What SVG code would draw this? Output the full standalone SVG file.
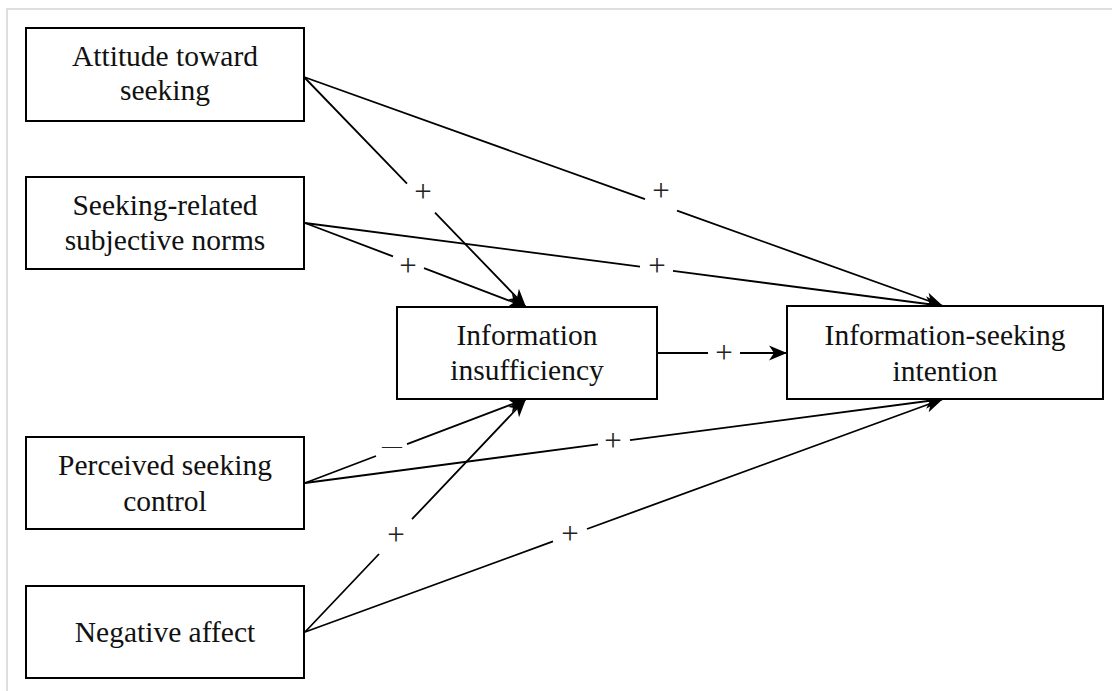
<svg xmlns="http://www.w3.org/2000/svg" width="1112" height="691" viewBox="0 0 1112 691">
<style>
.box{fill:#fff;stroke:#000;stroke-width:2}
.t{font-family:"Liberation Serif","Times New Roman",serif;font-size:29.5px;fill:#111;text-anchor:middle}
.c{fill:none;stroke:#000;stroke-width:1.8}
.lbl{font-family:"Liberation Serif","Times New Roman",serif;font-size:31px;fill:#222;text-anchor:middle}
.frame{stroke:#d4d4d4;stroke-width:1.5;fill:none}
</style>
<defs>
<marker id="ah" markerUnits="userSpaceOnUse" markerWidth="22" markerHeight="18" viewBox="-20 -9 22 18" refX="0" refY="0" orient="auto">
<path d="M0,0 L-18,-7.5 L-13,0 L-18,7.5 Z" fill="#000"/>
</marker>
</defs>
<rect width="1112" height="691" fill="#fff"/>
<path class="frame" d="M7,691 L7,9 L1112,9"/>
<g id="connectors">
<path class="c" d="M304,77 L407,183.7 M435,212.7 L526,307" marker-end="url(#ah)"/>
<path class="c" d="M304,77 L645,199.2 M677,210.7 L943,306" marker-end="url(#ah)"/>
<path class="c" d="M305,223 L393,256.4 M424,268.2 L526,307" marker-end="url(#ah)"/>
<path class="c" d="M305,223 L640,266.6 M673,270.9 L943,306" marker-end="url(#ah)"/>
<path class="c" d="M657,353 L708,353 M740,353 L787,353" marker-end="url(#ah)"/>
<path class="c" d="M305,483 L376,456 M407,444.2 L526,399" marker-end="url(#ah)"/>
<path class="c" d="M305,483 L598,444.4 M630,440.2 L943,399" marker-end="url(#ah)"/>
<path class="c" d="M305,632 L379,554 M412,519.2 L526,399" marker-end="url(#ah)"/>
<path class="c" d="M305,632 L553,541.4 M587,529 L943,399" marker-end="url(#ah)"/>
<text class="lbl" x="423" y="202">+</text>
<text class="lbl" x="661" y="201">+</text>
<text class="lbl" x="408" y="276">+</text>
<text class="lbl" x="657" y="276">+</text>
<text class="lbl" x="724" y="363">+</text>
<text class="lbl" x="392" y="453" style="font-size:20px">—</text>
<text class="lbl" x="613" y="451">+</text>
<text class="lbl" x="396" y="545">+</text>
<text class="lbl" x="570" y="544">+</text>
</g>
<g id="attitude">
<rect class="box" x="26" y="28" width="278" height="93"/>
<text class="t" x="165" y="66">Attitude toward</text>
<text class="t" x="165" y="100">seeking</text>
</g>
<g id="norms">
<rect class="box" x="26" y="177" width="278" height="92"/>
<text class="t" x="165" y="215">Seeking-related</text>
<text class="t" x="165" y="250">subjective norms</text>
</g>
<g id="control">
<rect class="box" x="26" y="437" width="278" height="92"/>
<text class="t" x="165" y="475">Perceived seeking</text>
<text class="t" x="165" y="511">control</text>
</g>
<g id="affect">
<rect class="box" x="26" y="586" width="278" height="92"/>
<text class="t" x="165" y="642">Negative affect</text>
</g>
<g id="insufficiency">
<rect class="box" x="397" y="307" width="260" height="92"/>
<text class="t" x="527" y="345">Information</text>
<text class="t" x="527" y="380">insufficiency</text>
</g>
<g id="intention">
<rect class="box" x="787" y="306" width="316" height="93"/>
<text class="t" x="945" y="345">Information-seeking</text>
<text class="t" x="945" y="381">intention</text>
</g>
</svg>
